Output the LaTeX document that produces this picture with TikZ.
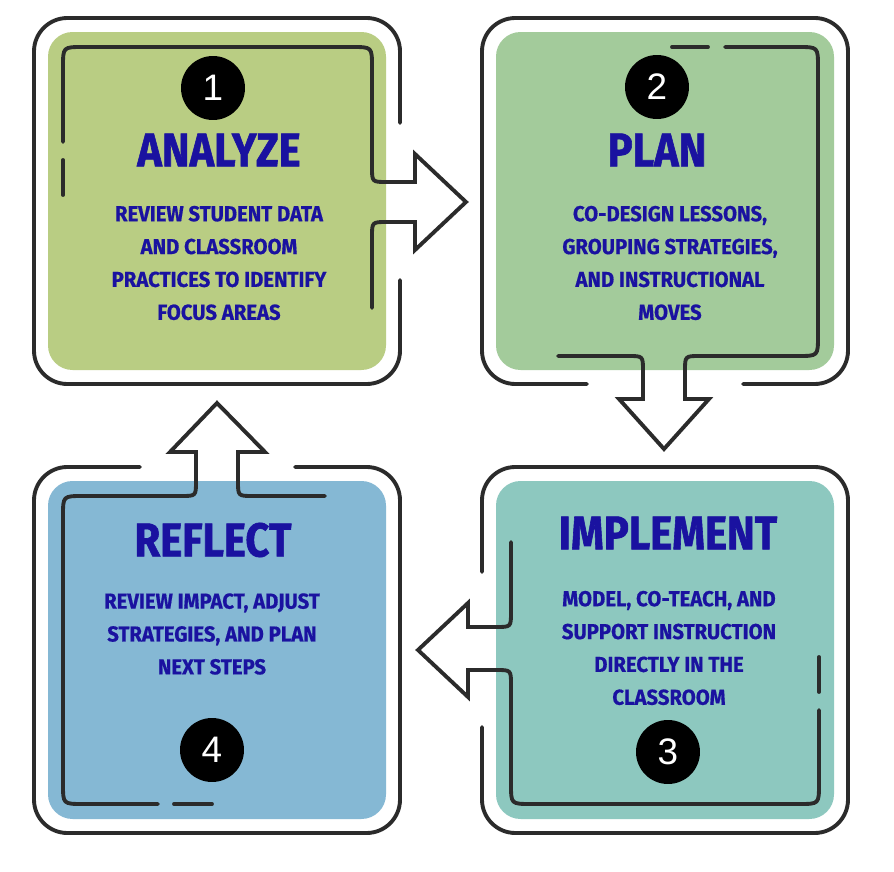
\documentclass[tikz,border=0pt]{standalone}
\usepackage{fontspec}
\setmainfont{Liberation Sans}
\newfontfamily\tfont[FakeStretch=0.88,FakeBold=1.2]{Fira Sans}
\newfontfamily\bfont[FakeStretch=0.94,FakeBold=0.6]{Fira Sans}
\definecolor{linec}{HTML}{2B2B2B}
\definecolor{gone}{HTML}{B9CD83}
\definecolor{gtwo}{HTML}{A3CB9B}
\definecolor{teal3}{HTML}{8DC8BF}
\definecolor{blue4}{HTML}{85B8D4}
\definecolor{txtc}{HTML}{1A12A0}
\begin{document}
\begin{tikzpicture}[x=0.02cm,y=-0.02cm,
  outl/.style={draw=linec,line width=2.2pt,line cap=round,rounded corners=19pt},
  innl/.style={draw=linec,line width=2.2pt,line cap=round,line join=miter},
  fillbox/.style={rounded corners=14pt},
  numc/.style={circle,fill=black,minimum size=1.28cm,inner sep=0pt,text=white,font=\fontsize{21}{21}\selectfont},
  ttl/.style={text=txtc,font=\tfont\bfseries\fontsize{27}{27}\selectfont},
  bodyt/.style={text=txtc,align=center,font=\bfont\bfseries\fontsize{12.3}{18.7}\selectfont}]
\useasboundingbox[fill=white] (0,0) rectangle (894,872);
% fills
\fill[gone,fillbox] (48,32) rectangle (386,370);
\fill[gtwo,fillbox] (496,32) rectangle (834,370);
\fill[teal3,fillbox] (496,481) rectangle (834,819);
\fill[blue4,fillbox] (48,481) rectangle (386,819);
% outer outlines
\draw[outl] (400,123) -- (400,18) -- (34,18) -- (34,384) -- (400,384) -- (400,280);
\draw[outl] (587,384) -- (482,384) -- (482,18) -- (848,18) -- (848,384) -- (743,384);
\draw[outl] (482,572) -- (482,467) -- (848,467) -- (848,833) -- (482,833) -- (482,727);
\draw[outl] (140,467) -- (34,467) -- (34,833) -- (400,833) -- (400,467) -- (295,467);
% box 1 inner line with right arrow
\draw[innl] (63,142) -- (63,67) .. controls (63,47) .. (83,47) -- (352,47)
  .. controls (372,47) .. (372,67) -- (372,167) .. controls (372,182) .. (387,182)
  -- (415,182) -- (415,154) -- (466,202) -- (415,250) -- (415,222) -- (387,222)
  .. controls (372,222) .. (372,237) -- (372,308);
\draw[innl] (63,160) -- (63,195);
% box 2 inner line with down arrow
\draw[innl] (672,47) -- (708,47);
\draw[innl] (725,47) -- (798,47) .. controls (818,47) .. (818,67) -- (818,336)
  .. controls (818,356) .. (798,356) -- (700,356) .. controls (685,356) .. (685,371)
  -- (685,399) -- (709,399) -- (664,449) -- (619,399) -- (643,399) -- (643,371)
  .. controls (643,356) .. (628,356) -- (558,356);
% box 3 inner line with left arrow
\draw[innl] (511,542) -- (511,612) .. controls (511,627) .. (496,627) -- (468,627)
  -- (468,603) -- (418,650) -- (468,697) -- (468,670) -- (496,670)
  .. controls (511,670) .. (511,685) -- (511,784) .. controls (511,804) .. (531,804)
  -- (799,804) .. controls (819,804) .. (819,784) -- (819,710);
\draw[innl] (819,657) -- (819,692);
% box 4 inner line with up arrow
\draw[innl] (325,496) -- (253,496) .. controls (238,496) .. (238,481) -- (238,452)
  -- (265,452) -- (217,403) -- (170,452) -- (196,452) -- (196,481)
  .. controls (196,496) .. (181,496) -- (83,496) .. controls (63,496) .. (63,516)
  -- (63,784) .. controls (63,804) .. (83,804) -- (158,804);
\draw[innl] (174,804) -- (212,804);
% numbers
\node[numc] (n1) at (213,88) {1};
\node[numc] (n2) at (657,87) {2};
\node[numc] (n3) at (668,752) {3};
\node[numc] (n4) at (212,750) {4};
% titles
\node[ttl] (t1) at (219,150) {ANALYZE};
\node[ttl] (t2) at (657,150) {PLAN};
\node[ttl] (t3) at (668,533) {IMPLEMENT};
\node[ttl] (t4) at (213,540) {REFLECT};
% bodies
\node[bodyt] (b1) at (219,263) {REVIEW STUDENT DATA\\AND CLASSROOM\\PRACTICES TO IDENTIFY\\FOCUS AREAS};
\node[bodyt] (b2) at (670,263) {CO-DESIGN LESSONS,\\GROUPING STRATEGIES,\\AND INSTRUCTIONAL\\MOVES};
\node[bodyt] (b3) at (669,648) {MODEL, CO-TEACH, AND\\SUPPORT INSTRUCTION\\DIRECTLY IN THE\\CLASSROOM};
\node[bodyt] (b4) at (212,634) {REVIEW IMPACT, ADJUST\\STRATEGIES, AND PLAN\\NEXT STEPS};
\end{tikzpicture}
\end{document}
